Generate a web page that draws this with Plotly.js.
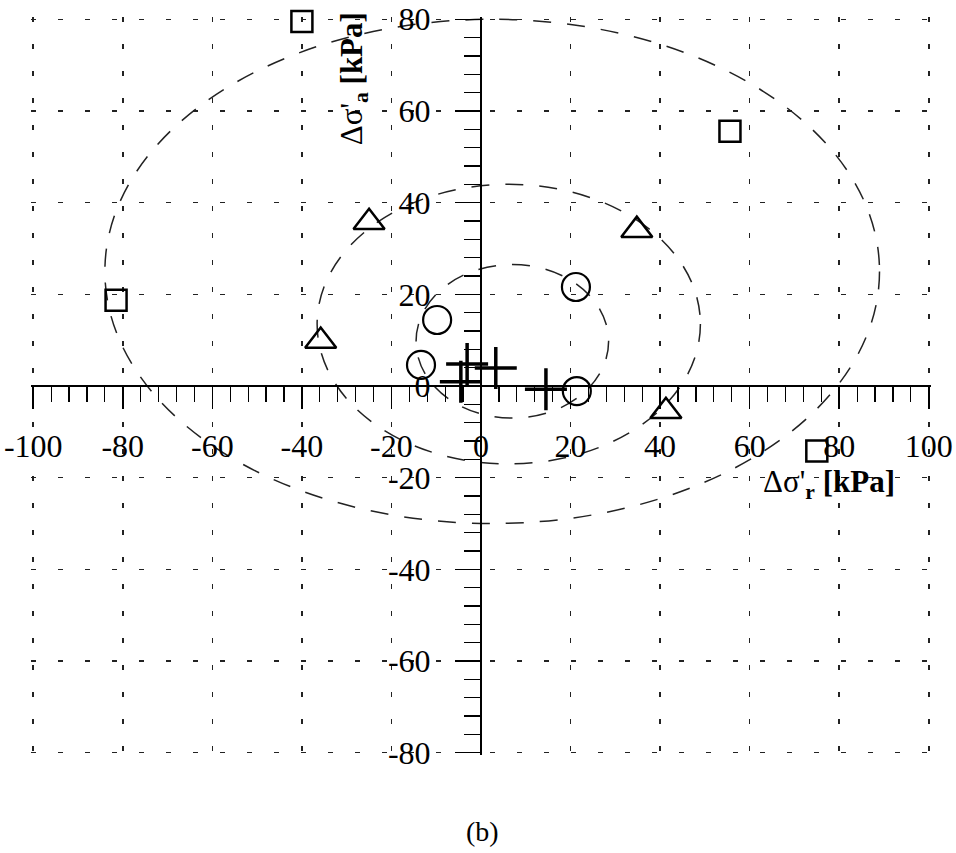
<!DOCTYPE html>
<html>
<head>
<meta charset="utf-8">
<script src="https://cdn.plot.ly/plotly-3.0.1.min.js"></script>
<style>html,body{margin:0;padding:0;background:#fff;}#chart{width:956px;height:853px;}</style>
</head>
<body>
<div id="chart"></div>
<script>
// ---- data ----
var squareX = [-40, -81.5, 55.6, 75];
var squareY = [79.5, 18.7, 55.6, -14.2];
var triangleX = [-25, -35.8, 34.8, 41.3];
var triangleY = [35.7, 9.8, 34, -5.5];
var circleX = [21.2, -9.8, -13.4, 21.4];
var circleY = [21.6, 14.4, 4.6, -1.1];
var crossX = [-4.5, -3.1, 3.3, 14.5];
var crossY = [0.9, 4.8, 3.9, -0.7];
// dashed ellipses: [xmin, xmax, ymin, ymax]
var ellipseOuter = [-84, 89, -30, 80];
var ellipseMiddle = [-36.6, 49, -17, 44];
var ellipseInner = [-14.5, 28.5, -7, 26.5];
var xTickVals = [-100, -80, -60, -40, -20, 0, 20, 40, 60, 80, 100];
var yTickVals = [-80, -60, -40, -20, 0, 20, 40, 60, 80];

var FONT = 'Liberation Serif, Times New Roman, serif';

function mk(x, y, symbol, size, lw) {
  return {
    x: x, y: y, type: 'scatter', mode: 'markers', showlegend: false,
    hoverinfo: 'skip', cliponaxis: false,
    marker: {symbol: symbol, size: size, color: '#000',
             line: {color: '#000', width: lw}}
  };
}
var traces = [
  mk(squareX, squareY, 'square-open', 21, 2.5),
  mk(triangleX, triangleY, 'triangle-up-open', 27, 2.5),
  mk(circleX, circleY, 'circle-open', 28, 2.2),
  mk(crossX, crossY, 'cross-thin-open', 30, 3.5)
];

function ell(e) {
  return {type: 'circle', xref: 'x', yref: 'y', layer: 'below',
          x0: e[0], x1: e[1], y0: e[2], y1: e[3],
          line: {color: '#222', width: 1.5, dash: '18px,16px'}};
}

var gridDash = '5px,22px';
var layout = {
  width: 956, height: 853,
  margin: {l: 31, r: 25, t: 17, b: 98},
  paper_bgcolor: '#fff', plot_bgcolor: '#fff',
  font: {family: FONT, color: '#000', size: 32},
  xaxis: {
    range: [-100.5, 100.5], anchor: 'free', position: 0.5,
    tickvals: xTickVals, ticktext: xTickVals.map(String),
    showline: true, linecolor: '#000', linewidth: 2,
    ticks: 'outside', ticklen: 22, tickwidth: 1.5, tickcolor: '#000',
    ticklabelstandoff: 10,
    minor: {dtick: 4, tick0: 0, ticks: 'outside', ticklen: 15, tickwidth: 1.2, tickcolor: '#000', showgrid: false},
    showgrid: true, gridcolor: '#222', gridwidth: 1.5, griddash: gridDash,
    zeroline: false, automargin: false,
    tickfont: {family: FONT, size: 32, color: '#000'}
  },
  yaxis: {
    range: [-80.5, 80.5], anchor: 'free', position: 0.5,
    tickvals: yTickVals, ticktext: yTickVals.map(String),
    showline: true, linecolor: '#000', linewidth: 2,
    ticks: 'outside', ticklen: 25, tickwidth: 1.5, tickcolor: '#000',
    ticklabelstandoff: 18,
    minor: {dtick: 4, tick0: 0, ticks: 'outside', ticklen: 16, tickwidth: 1.2, tickcolor: '#000', showgrid: false},
    showgrid: true, gridcolor: '#222', gridwidth: 1.5, griddash: gridDash,
    zeroline: false, automargin: false,
    tickfont: {family: FONT, size: 32, color: '#000'}
  },
  shapes: [ell(ellipseOuter), ell(ellipseMiddle), ell(ellipseInner)],
  annotations: [
    {xref: 'x', yref: 'y', x: 77.7, y: -21.4, showarrow: false, xanchor: 'center', yanchor: 'middle',
     text: "Δσ'<sub><b>r</b></sub> <b>[kPa]</b>", font: {family: FONT, size: 31, color: '#000'}},
    {xref: 'x', yref: 'y', x: -28.5, y: 67, showarrow: false, textangle: -90, xanchor: 'center', yanchor: 'middle',
     text: "Δσ'<sub><b>a</b></sub> <b>[kPa]</b>", font: {family: FONT, size: 31, color: '#000'}},
    {xref: 'paper', yref: 'paper', x: 0.5017, y: -0.104, showarrow: false, xanchor: 'center', yanchor: 'middle',
     text: '(b)', font: {family: FONT, size: 28, color: '#000'}}
  ]
};

Plotly.newPlot('chart', traces, layout, {displayModeBar: false, staticPlot: true});
</script>
</body>
</html>
